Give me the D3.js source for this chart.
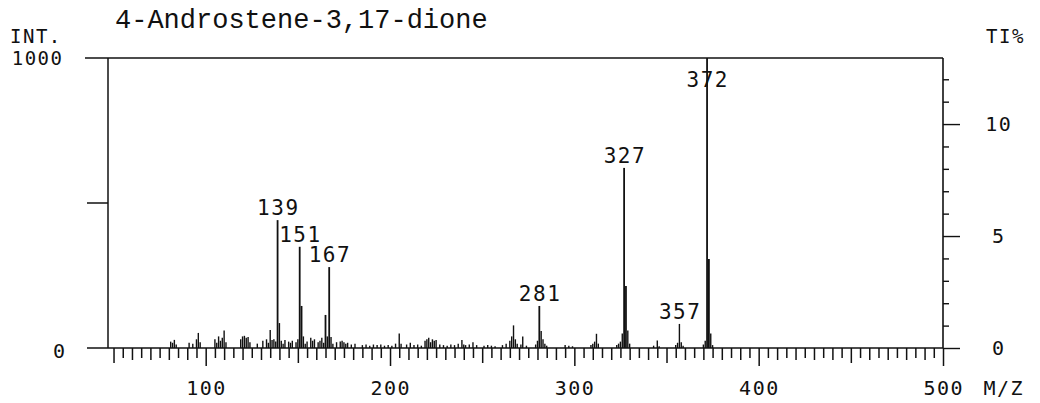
<!DOCTYPE html>
<html>
<head>
<meta charset="utf-8">
<script src="https://cdn.jsdelivr.net/npm/d3@7"></script>
<style>
  html, body { margin: 0; padding: 0; background: #fff; }
  svg { display: block; }
  .mono { font-family: "DejaVu Sans Mono", monospace; fill: #111; }
  .title { font-family: "Liberation Mono", "Courier New", monospace; fill: #111; }
</style>
</head>
<body>
<svg id="chart" width="1040" height="403"></svg>
<script>
// Mass spectrum of 4-Androstene-3,17-dione (relative intensity, base peak = 1000)
const titleText = "4-Androstene-3,17-dione";

const peakMz = [
  81, 82, 83, 84, 91, 93, 95, 96, 97, 105, 106, 107, 108, 109, 110, 111,
  119, 120, 121, 122, 123, 124, 128, 131, 133, 134, 135, 136, 137, 138,
  139, 140, 141, 142, 143, 145, 146, 147, 149, 150, 151, 152, 153, 154,
  155, 157, 158, 159, 161, 162, 163, 164, 165, 166, 167, 168, 169, 171,
  173, 174, 175, 176, 177, 179, 181, 185, 187, 189, 191, 193, 195, 197,
  199, 201, 203, 205, 206, 209, 211, 213, 215, 217, 219, 220, 221, 222,
  223, 224, 225, 227, 229, 231, 233, 235, 237, 239, 240, 241, 243, 245,
  247, 251, 253, 255, 257, 261, 263, 265, 266, 267, 268, 269, 271, 272,
  274, 279, 280, 281, 282, 283, 284, 285, 295, 297, 299, 309, 310, 311,
  312, 313, 323, 324, 325, 326, 327, 328, 329, 330, 343, 345, 346, 355,
  356, 357, 358, 359, 370, 371, 372, 373, 374, 375
];
const peakInt = [
  22, 18, 28, 12, 18, 15, 30, 52, 20, 30, 18, 40, 25, 35, 60, 20,
  30, 40, 42, 35, 38, 20, 15, 25, 30, 18, 62, 28, 30, 22,
  441, 86, 25, 15, 28, 22, 18, 25, 20, 30, 349, 145, 40, 15,
  22, 35, 25, 30, 20, 25, 35, 18, 114, 40, 279, 38, 15, 20,
  22, 25, 20, 15, 18, 12, 15, 10, 12, 8, 12, 10, 12, 8,
  10, 8, 15, 50, 15, 12, 18, 10, 12, 8, 25, 30, 35, 20,
  30, 25, 28, 12, 10, 8, 12, 10, 15, 28, 12, 10, 12, 20,
  10, 8, 10, 8, 6, 10, 15, 25, 40, 78, 30, 15, 12, 40,
  8, 12, 25, 145, 59, 30, 15, 8, 10, 8, 6, 10, 15, 22,
  49, 15, 10, 15, 22, 50, 621, 214, 60, 15, 8, 26, 6, 10,
  18, 83, 20, 8, 12, 25, 1000, 307, 50, 10
];

// Peaks annotated with their m/z
const labelledMz = [139, 151, 167, 281, 327, 357, 372];

// Axis tick values
const xTickLabels = [100, 200, 300, 400, 500];
const intTickLabels = ["0", "1000"];
const tiTickLabels = [0, 5, 10];
const tiMax = 12.95;

const svg = d3.select("#chart");

const x = d3.scaleLinear().domain([47, 500]).range([108, 943]);
const y = d3.scaleLinear().domain([0, 1000]).range([348, 58]);
const yTI = d3.scaleLinear().domain([0, tiMax]).range([348, 58]);

const ink = "#111";
const ls = 1.5; // letter spacing of the plotter lettering

// monospace text with letter spacing
function monoText(xc, yb, str, size, anchor) {
  const t = svg.append("text").attr("class", "mono")
    .attr("y", yb)
    .style("font-size", size + "px")
    .style("letter-spacing", ls + "px")
    .text(str);
  if (anchor === "middle") t.attr("x", xc + ls / 2).attr("text-anchor", "middle");
  else if (anchor === "end") t.attr("x", xc + ls).attr("text-anchor", "end");
  else t.attr("x", xc);
  return t;
}

// Title
svg.append("text").attr("class", "title")
  .attr("x", 115).attr("y", 28)
  .style("font-size", "27px")
  .text(titleText);

// Left axis captions
monoText(10, 43, "INT.", 19, "start");
monoText(62, y(1000) + 7, intTickLabels[1], 19, "end");
monoText(65, y(0) + 10, intTickLabels[0], 20, "end");

// Frame: top rule, left axis, baseline and the 500 tick
const g = svg.append("g").attr("stroke", ink).attr("fill", "none");
g.append("line").attr("x1", 85).attr("x2", x(500)).attr("y1", y(1000)).attr("y2", y(1000)).attr("stroke-width", 1.6);
g.append("line").attr("x1", x(47)).attr("x2", x(47)).attr("y1", y(1000)).attr("y2", y(0)).attr("stroke-width", 1.5);
g.append("line").attr("x1", 87).attr("x2", x(47)).attr("y1", y(500)).attr("y2", y(500)).attr("stroke-width", 1.5);
g.append("line").attr("x1", 87).attr("x2", x(500)).attr("y1", y(0)).attr("y2", y(0)).attr("stroke-width", 1.6);

// Right TI% axis
const rightAxis = d3.axisRight(yTI)
  .tickValues(d3.range(0, 13, 1))
  .tickSize(6)
  .tickFormat("");
const ra = svg.append("g").attr("transform", `translate(${x(500)},0)`).call(rightAxis);
ra.select(".domain").attr("d", `M0,${yTI(tiMax)}V${yTI(0)}`).attr("stroke", ink).attr("stroke-width", 1.6);
ra.selectAll(".tick line").attr("stroke", ink).attr("stroke-width", 1.4)
  .attr("x2", d => tiTickLabels.includes(d) ? 17 : 6);
tiTickLabels.forEach(v => monoText(998, yTI(v) + 7, String(v), 20, "middle"));
monoText(986, 43, "TI%", 19, "start");

// Bottom m/z axis
const bottomAxis = d3.axisBottom(x)
  .tickValues(d3.range(50, 501, 5))
  .tickSize(11)
  .tickFormat("");
const ba = svg.append("g").attr("transform", `translate(0,${y(0)})`).call(bottomAxis);
ba.select(".domain").remove();
ba.selectAll(".tick line").attr("stroke", ink).attr("stroke-width", 1.5)
  .attr("y2", d => d % 100 === 0 ? 18 : (d % 50 === 0 ? 15 : (d % 10 === 0 ? 12 : 10)));
xTickLabels.forEach(v => monoText(x(v), 395, String(v), 20, "middle"));
monoText(1003, 395, "M/Z", 20, "middle");

// Peak sticks
const peaks = peakMz.map((m, i) => ({ mz: m, v: peakInt[i] }));
svg.append("g").selectAll("line").data(peaks).join("line")
  .attr("x1", d => x(d.mz)).attr("x2", d => x(d.mz))
  .attr("y1", y(0)).attr("y2", d => y(d.v))
  .attr("stroke", ink)
  .attr("stroke-width", d => d.v > 100 ? 1.8 : 1.4);

// Peak annotations
const maxInt = d3.max(peakInt);
peaks.filter(d => labelledMz.includes(d.mz)).forEach(d => {
  monoText(x(d.mz), d.v >= maxInt ? y(d.v) + 29 : y(d.v) - 5, String(d.mz), 21, "middle");
});
</script>
</body>
</html>
